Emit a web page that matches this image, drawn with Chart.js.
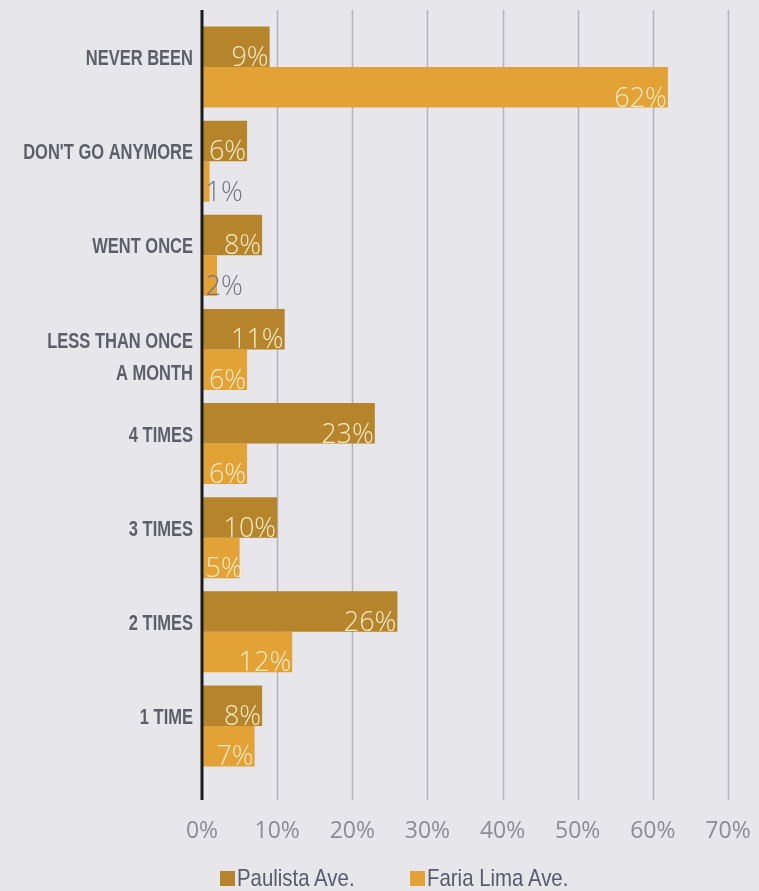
<!DOCTYPE html>
<html>
<head>
<meta charset="utf-8">
<script src="https://cdn.jsdelivr.net/npm/chart.js@4/dist/chart.umd.min.js"></script>
<style>
  body { margin: 0; background: #e6e6eb; }
  #wrap { width: 759px; height: 891px; position: relative; }
  #legend { position: absolute; left: 220px; top: 866px; display: flex; font-family: 'Liberation Sans', Arial, sans-serif; font-size: 24px; color: #5a5a6e; line-height: 24px; }
  #legend .item { display: flex; align-items: center; }
  #legend .box { width: 15px; height: 15px; margin-right: 2px; }
  #legend .txt { display: inline-block; transform: scaleX(0.85); transform-origin: left center; }
</style>
</head>
<body>
<div id="wrap"><canvas id="bar-chart"></canvas><div id="legend"></div></div>
<script>
var categories = [
    ["NEVER BEEN"],
    ["DON'T GO ANYMORE"],
    ["WENT ONCE"],
    ["LESS THAN ONCE", "A MONTH"],
    ["4 TIMES"],
    ["3 TIMES"],
    ["2 TIMES"],
    ["1 TIME"]
];
var paulista = [9, 6, 8, 11, 23, 10, 26, 8];
var fariaLima = [62, 1, 2, 6, 6, 5, 12, 7];
var xTicks = [0, 10, 20, 30, 40, 50, 60, 70];

var boldNarrow = "bold 22px 'Liberation Sans', Arial, sans-serif";
var light = "'Open Sans', 'Noto Sans', sans-serif";

// background, gridlines, zero axis, category labels and value labels
var framePlugin = {
    id: 'frame',
    beforeDraw: function (chart) {
        var ctx = chart.ctx;
        ctx.save();
        ctx.fillStyle = '#e6e6eb';
        ctx.fillRect(0, 0, chart.width, chart.height);
        ctx.restore();
    },
    beforeDatasetsDraw: function (chart) {
        var ctx = chart.ctx, area = chart.chartArea, x = chart.scales.x;
        ctx.save();
        ctx.strokeStyle = '#b4b4bc';
        ctx.lineWidth = 1.5;
        xTicks.forEach(function (v) {
            if (v === 0) return;
            var px = Math.round(x.getPixelForValue(v)) + 0.5;
            ctx.beginPath();
            ctx.moveTo(px, area.top - 10);
            ctx.lineTo(px, area.bottom + 27);
            ctx.stroke();
        });
        ctx.restore();
    },
    afterDatasetsDraw: function (chart) {
        var ctx = chart.ctx, area = chart.chartArea, x = chart.scales.x, y = chart.scales.y;
        ctx.save();
        ctx.strokeStyle = '#1c1c1c';
        ctx.lineWidth = 3;
        var px = x.getPixelForValue(0);
        ctx.beginPath();
        ctx.moveTo(px, area.top - 10);
        ctx.lineTo(px, area.bottom + 27);
        ctx.stroke();

        // category labels, condensed
        ctx.font = boldNarrow;
        ctx.fillStyle = '#5e5e68';
        ctx.textAlign = 'right';
        ctx.textBaseline = 'middle';
        categories.forEach(function (lines, i) {
            var cy = y.getPixelForValue(i);
            lines.forEach(function (line, k) {
                var ly = lines.length > 1 ? cy - 8 + k * 32 : cy - 8;
                ctx.save();
                ctx.translate(px - 9, ly);
                ctx.scale(0.75, 1);
                ctx.fillText(line, 0, 0);
                ctx.restore();
            });
        });

        // value labels
        ctx.font = '300 27px ' + light;
        chart.data.datasets.forEach(function (ds, i) {
            chart.getDatasetMeta(i).data.forEach(function (bar, j) {
                var txt = ds.data[j] + '%';
                var w = ctx.measureText(txt).width;
                var by = bar.y + bar.height / 2 - 1;
                ctx.textBaseline = 'alphabetic';
                if (bar.x - bar.base >= w - 8) {
                    ctx.textAlign = 'right';
                    ctx.fillStyle = '#f8ebc8';
                    ctx.fillText(txt, Math.max(bar.x - 1, bar.base + 3 + w), by);
                } else {
                    ctx.textAlign = 'left';
                    ctx.fillStyle = '#74747e';
                    ctx.fillText(txt, bar.base + 3, by);
                }
            });
        });
        ctx.restore();
    }
};

var barContext = document.getElementById('bar-chart').getContext('2d');

var barChart = new Chart(barContext, {
    type: "bar",
    data: {
        labels: categories.map(function (l) { return l.join(' '); }),
        datasets: [{
            label: "Paulista Ave.",
            data: paulista,
            backgroundColor: "#b5842b"
        }, {
            label: "Faria Lima Ave.",
            data: fariaLima,
            backgroundColor: "#e3a235"
        }]
    },
    options: {
        indexAxis: 'y',
        responsive: true,
        maintainAspectRatio: false,
        animation: false,
        datasets: {
            bar: { barPercentage: 1.0, categoryPercentage: 0.86 }
        },
        layout: {
            padding: { top: 20, right: 31, left: 0, bottom: 45 }
        },
        scales: {
            x: {
                min: 0,
                max: 70,
                afterBuildTicks: function (s) {
                    s.ticks = xTicks.map(function (v) { return { value: v }; });
                },
                afterFit: function (s) { s.height = 73; },
                grid: { display: true, drawOnChartArea: false, drawTicks: true, tickLength: 45, color: 'rgba(0,0,0,0)' },
                border: { display: false },
                ticks: {
                    padding: 0,
                    maxRotation: 0,
                    color: '#8c8c94',
                    font: { family: light, size: 23 },
                    callback: function (v) { return v + '%'; }
                }
            },
            y: {
                afterFit: function (s) { s.width = 202; },
                grid: { display: false },
                border: { display: false },
                ticks: { display: false }
            }
        },
        plugins: {
            legend: { display: false },
            tooltip: { enabled: false }
        }
    },
    plugins: [framePlugin]
});

// html legend built from the datasets
var legendEl = document.getElementById('legend');
barChart.data.datasets.forEach(function (ds, i) {
    var item = document.createElement('div');
    item.className = 'item';
    item.style.width = i === 0 ? '190px' : 'auto';
    var box = document.createElement('span');
    box.className = 'box';
    box.style.background = ds.backgroundColor;
    var txt = document.createElement('span');
    txt.className = 'txt';
    txt.textContent = ds.label;
    item.appendChild(box);
    item.appendChild(txt);
    legendEl.appendChild(item);
});
</script>
</body>
</html>
